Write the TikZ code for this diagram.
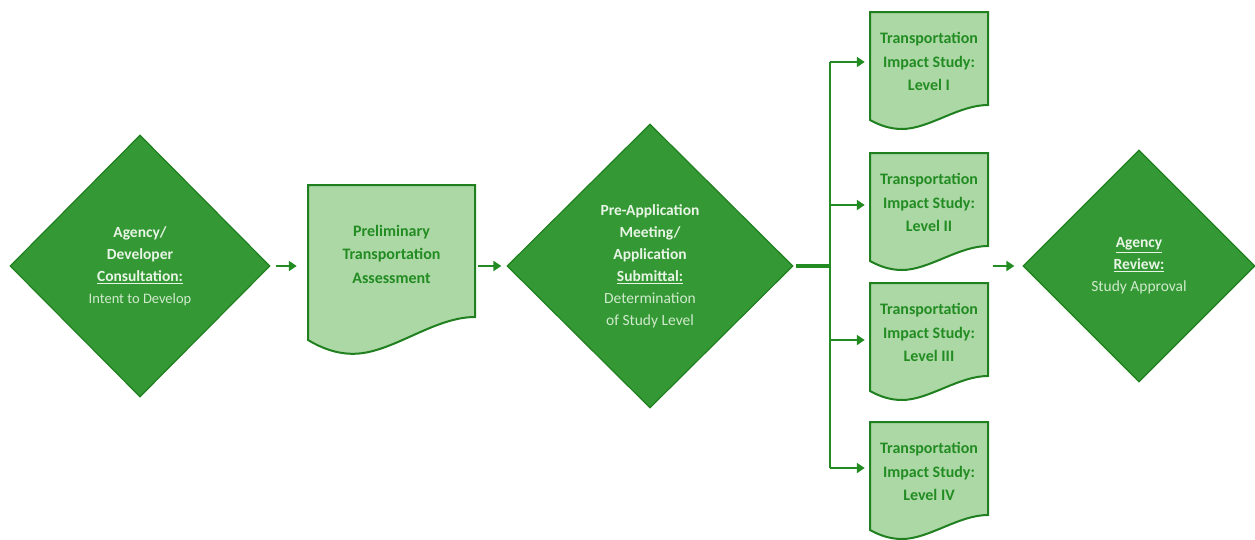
\documentclass[tikz,border=0pt]{standalone}
\usepackage{fontspec}
\setmainfont{Carlito}
\usetikzlibrary{arrows.meta,shapes.geometric}
\definecolor{darkfill}{RGB}{52,152,52}
\definecolor{edgegreen}{RGB}{32,128,32}
\definecolor{lightfill}{RGB}{172,216,166}
\definecolor{textgreen}{RGB}{34,140,34}
\definecolor{boldwhite}{RGB}{232,245,230}
\definecolor{plainwhite}{RGB}{208,234,205}
\newcommand{\hd}[1]{{\bfseries\color{boldwhite}#1}}
% document box: name, x, y, width, height, drop, text
\newcommand{\docbox}[7]{%
  \draw[docline] (#2,#3) -- ({#2+#4},#3) -- ({#2+#4},{#3+#5})
    .. controls ({#2+0.75*#4},{#3+#5}) and ({#2+0.5*#4},{#3+#5+1.6*#6}) .. ({#2+0.27*#4},{#3+#5+1.6*#6})
    .. controls ({#2+0.17*#4},{#3+#5+1.6*#6}) and ({#2+0.08*#4},{#3+#5+1.35*#6}) .. (#2,{#3+#5+#6}) -- cycle;
  \node[doctext, minimum width=#4, minimum height=#5] (#1) at ({#2+#4/2},{#3+#5/2+3}) {#7};
}

\begin{document}
\begin{tikzpicture}[x=1pt,y=-1pt,
  step diamond/.style={shape=diamond, draw=edgegreen, fill=darkfill, line width=1.2pt,
    inner sep=0pt, align=center, text=plainwhite, font=\fontsize{15.5}{22}\selectfont},
  docline/.style={draw=edgegreen, fill=lightfill, line width=2pt},
  doctext/.style={inner sep=0pt, align=center, text=textgreen, font=\bfseries\fontsize{16}{23.5}\selectfont},
  flow/.style={draw=textgreen, line width=2.2pt, -{Triangle[length=8pt,width=10pt]}}]
\useasboundingbox (0,0) rectangle (1255,539);

% agency / developer consultation
\node[step diamond, minimum width=260, minimum height=262] (consult) at (140,266)
  {\hd{Agency/}\\\hd{Developer}\\\hd{\underline{Consultation:}}\\{\fontsize{14.5}{22}\selectfont Intent to Develop}};

% preliminary assessment
\docbox{prelim}{308}{185}{167}{132}{23}{Preliminary\\Transportation\\Assessment}

% pre-application meeting
\node[step diamond, minimum width=286, minimum height=284] (preapp) at (650,266)
  {\hd{Pre-Application}\\\hd{Meeting/}\\\hd{Application}\\\hd{\underline{Submittal:}}\\Determination\\of Study Level};

% impact study levels
\docbox{levelone}{870}{12}{118}{93}{15}{Transportation\\Impact Study:\\Level I}
\docbox{leveltwo}{870}{153}{118}{93}{15}{Transportation\\Impact Study:\\Level II}
\docbox{levelthree}{870}{283}{118}{93}{15}{Transportation\\Impact Study:\\Level III}
\docbox{levelfour}{870}{422}{118}{93}{15}{Transportation\\Impact Study:\\Level IV}

% agency review
\node[step diamond, minimum width=232, minimum height=232] (review) at (1139,266)
  {\hd{\underline{Agency}}\\\hd{\underline{Review:}}\\Study Approval};

% arrows
\draw[flow, shorten <=5pt, shorten >=11pt] (consult.east) -- (prelim.west |- consult.east);
\draw[flow, shorten <=3pt, shorten >=5pt] (prelim.east |- preapp.west) -- (preapp.west);

% branch to the four levels
\coordinate (trunk) at (830,266);
\coordinate (b1) at (830,62);
\coordinate (b2) at (830,205);
\coordinate (b3) at (830,340);
\coordinate (b4) at (830,468);
\draw[textgreen, line width=4pt, shorten <=2pt] (preapp.east) -- (trunk);
\draw[textgreen, line width=2.2pt] (b1) -- (b4);
\foreach \b/\lvl in {b1/levelone,b2/leveltwo,b3/levelthree,b4/levelfour}
  \draw[flow, shorten >=5pt] (\b) -- (\b -| \lvl.west);

% to review
\coordinate (collect) at (993,266);
\draw[flow, shorten >=8pt] (collect) -- (collect -| review.west);

\end{tikzpicture}
\end{document}
